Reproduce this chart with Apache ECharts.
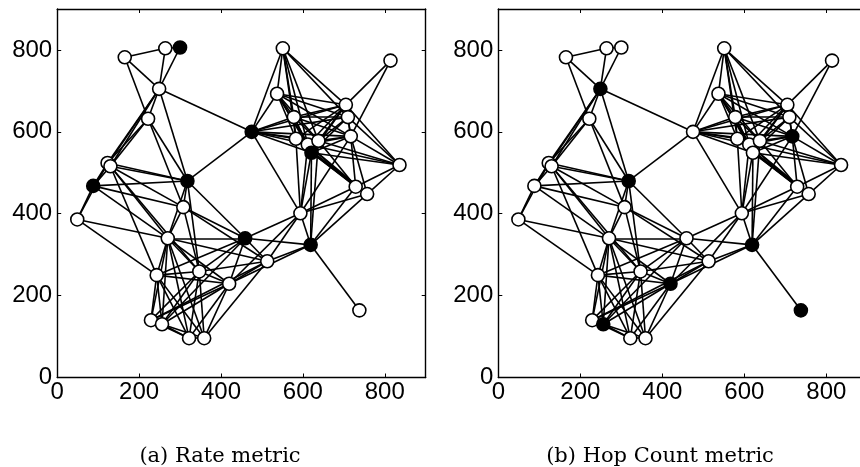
<!DOCTYPE html>
<html><head><meta charset="utf-8">
<script src="https://cdn.jsdelivr.net/npm/echarts@6/dist/echarts.min.js"></script>
<style>html,body{margin:0;padding:0;background:#fff}#c{width:860px;height:467px}</style>
</head><body><div id="c"></div>
<script>
// Node coordinates (shared by both panels)
const nodeX = [165,264,300,249,222,123,130,88,318,308,49,270,243,347,229,256,322,359,420,459,513,594,619,738,475,551,814,537,705,578,710,583,612,638,717,621,836,729,757];
const nodeY = [782,804,806,705,632,524,516,468,480,416,386,340,250,259,140,130,96,96,229,340,284,401,324,164,600,804,774,693,666,636,636,583,569,578,589,549,519,466,448];
// Gateway (black) nodes per panel
const gatewaysRate = [2,7,8,19,22,24,35];
const gatewaysHop = [3,8,15,18,22,23,34];
// Links (pairs of node indices)
const edges = [
 [0,1],[0,3],[0,4],[1,2],[1,3],[2,3],[3,4],[3,5],[3,6],[3,7],[3,8],[3,24],
 [4,5],[4,6],[4,8],[4,9],[5,6],[5,7],[6,7],[5,8],[6,8],[7,8],[6,9],[7,9],[7,10],[5,10],
 [8,9],[8,24],[6,11],[7,11],[6,12],[6,13],
 [10,11],[10,12],[9,11],[8,11],[11,12],[11,13],[11,14],[11,15],[11,16],[11,17],[11,18],[11,19],[11,20],
 [12,13],[12,14],[12,15],[12,16],[12,17],[12,18],[12,19],
 [13,14],[13,15],[13,16],[13,17],[13,18],[13,19],[13,20],[9,13],[8,13],
 [14,15],[14,16],[15,16],[15,17],[16,17],[14,18],[15,18],[16,18],[17,18],[17,20],[15,19],[14,20],
 [9,19],[8,19],[9,20],[18,19],[18,20],[18,21],[18,22],[19,20],[19,21],[19,22],[20,21],[20,22],[21,22],[22,23],
 [21,24],[21,35],[21,37],[21,38],[21,31],[21,32],[21,34],
 [22,35],[22,37],[22,38],[22,33],
 [24,25],[24,27],[24,28],[24,29],[24,30],[24,31],[24,32],[24,33],[24,34],[24,35],
 [25,27],[25,28],[25,29],[25,30],[25,31],[25,32],[25,33],
 [26,28],[26,34],
 [27,28],[27,29],[27,30],[27,31],[27,32],[27,33],[27,34],[27,35],
 [28,29],[28,30],[28,31],[28,32],[28,33],[28,34],[28,35],[28,36],
 [29,30],[29,31],[29,32],[29,33],[29,34],[29,35],
 [30,33],[30,34],[30,35],[30,36],
 [31,32],[31,33],[31,35],[31,37],[31,38],
 [32,33],[32,34],[32,35],[32,36],[32,37],[32,38],
 [33,34],[33,35],[33,36],[33,37],
 [34,35],[34,36],[34,37],[34,38],
 [35,36],[35,37],[35,38],
 [36,37],[36,38],[37,38]
];
const axisMin = 0, axisMax = 900, axisInterval = 200;
const tickLabels = ['0','200','400','600','800'];
const captions = ['(a) Rate metric', '(b) Hop Count metric'];
const gatewaySets = [gatewaysRate, gatewaysHop];

const chart = echarts.init(document.getElementById('c'), null, {renderer:'canvas'});
const grids = [
  {left:57.2, top:9, width:368.5, height:368.5, outerBoundsMode:'none', containLabel:false},
  {left:498.3, top:9, width:369, height:368.5, outerBoundsMode:'none', containLabel:false}
];
const FONT = 'Liberation Sans';
const lineW = 1.6;
const xAxes = [], yAxes = [], series = [];
const fmt = (v)=>{const k = (v-axisMin)/axisInterval; return Number.isInteger(k) && tickLabels[k] !== undefined ? tickLabels[k] : '';};
grids.forEach((g, i) => {
  const base = {
    gridIndex:i, type:'value', min:axisMin, max:axisMax, interval:axisInterval,
    axisLine:{show:true, onZero:false, lineStyle:{color:'#000', width:1.4}},
    axisTick:{show:true, inside:true, length:4, lineStyle:{color:'#000', width:1}},
    splitLine:{show:false}
  };
  xAxes.push(Object.assign({}, base, {position:'bottom',
    axisLabel:{show:true, color:'#000', fontFamily:FONT, fontSize:24, margin:3, showMaxLabel:false, formatter:fmt}}));
  xAxes.push(Object.assign({}, base, {position:'top', axisLabel:{show:false}}));
  yAxes.push(Object.assign({}, base, {position:'left',
    axisLabel:{show:true, color:'#000', fontFamily:FONT, fontSize:24, margin:5, showMaxLabel:false, formatter:fmt}}));
  yAxes.push(Object.assign({}, base, {position:'right', axisLabel:{show:false}}));
  const gw = gatewaySets[i];
  series.push({
    type:'graph', coordinateSystem:'cartesian2d', xAxisIndex:2*i, yAxisIndex:2*i,
    layout:'none', symbol:'circle', symbolSize:13, silent:true, animation:false,
    data: nodeX.map((x,k)=>({value:[x, nodeY[k]], itemStyle:{color: gw.includes(k)?'#000':'#fff', borderColor:'#000', borderWidth:1.6, opacity:1}})),
    links: edges.map(([s,t])=>({source:s, target:t})),
    lineStyle:{color:'#000', width:lineW, opacity:1, curveness:0},
    label:{show:false},
    emphasis:{disabled:true}
  });
});
chart.setOption({
  backgroundColor:'#fff',
  animation:false,
  grid: grids,
  xAxis: xAxes,
  yAxis: yAxes,
  series: series,
  graphic: [
    {type:'text', x:220, y:457, style:{text:captions[0], fill:'#000', font:'21px "DejaVu Serif"', align:'center', verticalAlign:'middle'}},
    {type:'text', x:660, y:457, style:{text:captions[1], fill:'#000', font:'21px "DejaVu Serif"', align:'center', verticalAlign:'middle'}}
  ]
});
</script></body></html>
